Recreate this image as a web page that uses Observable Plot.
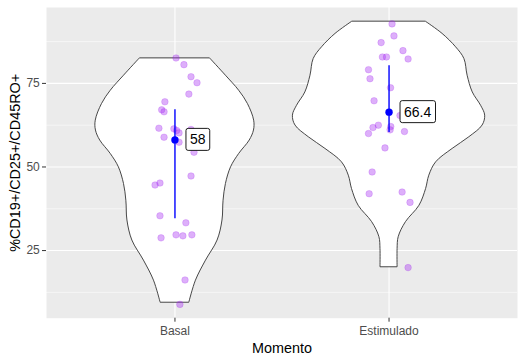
<!DOCTYPE html>
<html><head><meta charset="utf-8">
<script src="https://cdn.jsdelivr.net/npm/d3@7"></script>
<script src="https://cdn.jsdelivr.net/npm/@observablehq/plot@0.6"></script>
<style>html,body{margin:0;padding:0;background:#fff;} svg{display:block;}</style>
</head><body><div id="chart"></div>
<script>
// ---- data ----
const categories = ["Basal", "Estimulado"];
const yTicks = [25, 50, 75];
const yMinorTicks = [12.5, 37.5, 62.5, 87.5];

const basalValues = [82.6, 80.6, 77.0, 75.2, 71.8, 69.5, 67.1, 66.5, 61.6, 61.4, 60.9, 61.2, 60.2, 58.9, 57.4, 54.4, 47.3, 45.2, 44.6, 35.4, 33.3, 29.7, 29.4, 29.7, 28.8, 16.2, 8.9];
const basalJitter = [0.005, 0.042, 0.075, 0.103, 0.065, -0.047, -0.062, -0.051, -0.075, -0.005, 0.008, 0.075, 0.019, -0.051, 0.019, 0.089, 0.075, -0.070, -0.093, -0.070, 0.051, 0.005, 0.037, 0.079, -0.065, 0.047, 0.023];

const estimValues = [92.8, 89.2, 87.2, 84.8, 82.9, 82.9, 82.3, 79.1, 76.4, 73.7, 69.8, 65.4, 62.5, 62.1, 61.8, 61.1, 60.6, 60.0, 55.7, 48.5, 42.0, 42.5, 39.4, 19.9];
const estimJitter = [0.014, 0.023, -0.037, 0.065, -0.031, -0.012, 0.089, -0.096, -0.089, 0.007, -0.070, 0.051, -0.050, 0.008, -0.075, 0.005, 0.072, -0.096, -0.019, -0.079, -0.093, 0.061, 0.098, 0.089];

// violin outlines (value, half-width in category units)
const basalProfileV = [82.4, 77.3, 72.8, 68.8, 63.85, 60.9, 57.9, 53.9, 49.9, 44.9, 39.9, 34.0, 28.0, 22.0, 16.0, 9.4];
const basalProfileW = [0.165, 0.238, 0.300, 0.341, 0.370, 0.369, 0.349, 0.300, 0.262, 0.238, 0.227, 0.222, 0.199, 0.145, 0.098, 0.067];
const estimProfileV = [93.4, 89.8, 85.8, 82.3, 77.3, 72.3, 68.3, 65.35, 62.4, 58.9, 55.4, 51.4, 47.4, 43.4, 38.4, 33.5, 29.0, 25.5, 20.0];
const estimProfileW = [0.173, 0.250, 0.313, 0.352, 0.367, 0.391, 0.430, 0.449, 0.437, 0.375, 0.297, 0.220, 0.188, 0.173, 0.142, 0.079, 0.045, 0.040, 0.040];

// summary: median and interquartile range
const medians = [58.1, 66.4];
const q1s = [34.5, 60.35];
const q3s = [67.1, 80.3];
const medianLabels = ["58", "66.4"];

// ---- tables ----
const points = [
  ...basalValues.map((v, i) => ({group: categories[0], c: 1, v, j: basalJitter[i]})),
  ...estimValues.map((v, i) => ({group: categories[1], c: 2, v, j: estimJitter[i]}))
];
const violin = [
  ...basalProfileV.map((v, i) => ({group: categories[0], c: 1, v, w: basalProfileW[i]})),
  ...estimProfileV.map((v, i) => ({group: categories[1], c: 2, v, w: estimProfileW[i]}))
];
const summary = categories.map((g, i) => ({group: g, c: i + 1, med: medians[i], q1: q1s[i], q3: q3s[i], label: medianLabels[i]}));

const FONT = "'Liberation Sans', Arial, Helvetica, sans-serif";
const LABEL_FILL = "#000001";

const chart = Plot.plot({
  width: 524, height: 363,
  marginLeft: 46, marginRight: 7, marginTop: 7, marginBottom: 45.3,
  style: {fontFamily: FONT, background: "white", overflow: "visible"},
  x: {type: "linear", domain: [0.4, 2.6]},
  y: {domain: [4.77, 97.7]},
  marks: [
    Plot.frame({fill: "#EBEBEB", stroke: null}),
    Plot.ruleY(yMinorTicks, {stroke: "white", strokeWidth: 0.55}),
    Plot.ruleY(yTicks, {stroke: "white", strokeWidth: 1.1}),
    Plot.ruleX([1, 2], {stroke: "white", strokeWidth: 1.1}),
    Plot.areaX(violin, {y: "v", x1: d => d.c - d.w, x2: d => d.c + d.w, z: "group", fill: "white", stroke: "#333333", strokeWidth: 0.9, curve: "catmull-rom"}),
    Plot.dot(points, {x: d => d.c + d.j, y: "v", r: 3.3, fill: "#A020F0", fillOpacity: 0.36, stroke: "#A020F0", strokeOpacity: 0.2, strokeWidth: 1}),
    Plot.ruleX(summary, {x: "c", y1: "q1", y2: "q3", stroke: "#0000FF", strokeWidth: 1.4}),
    Plot.dot(summary, {x: "c", y: "med", r: 3.7, fill: "#0000FF", stroke: null}),
    Plot.text(summary, {x: "c", y: "med", text: "label", dx: 15, textAnchor: "start", lineAnchor: "middle", fontSize: 14, fill: LABEL_FILL}),
    Plot.axisX({ticks: [1, 2], tickFormat: i => categories[i - 1], tickSize: 4, tickPadding: 4.3, fontSize: 12, stroke: "#333333", fill: "#4D4D4D", label: null}),
    Plot.axisY({ticks: yTicks, tickSize: 4, tickPadding: 2.7, fontSize: 12, stroke: "#333333", fill: "#4D4D4D", label: null}),
    Plot.text(["Momento"], {text: d => d, frameAnchor: "bottom", dy: 30.4, textAnchor: "middle", lineAnchor: "middle", fontSize: 14.4, fill: "black"}),
    Plot.text(["%CD19+/CD25+/CD45RO+"], {text: d => d, frameAnchor: "left", dx: -31.3, rotate: -90, textAnchor: "middle", lineAnchor: "middle", fontSize: 14.4, fill: "black"})
  ]
});

document.getElementById("chart").append(chart);

// draw label boxes behind the median labels (like geom_label)
const labelTexts = Array.from(chart.querySelectorAll("text")).filter(t => {
  const g = t.closest("g");
  return g && (g.getAttribute("fill") || "").toLowerCase() === LABEL_FILL && medianLabels.includes(t.textContent);
});
labelTexts.forEach(t => {
  const b = t.getBBox();
  const padX = 4, padY = 3;
  const rect = document.createElementNS("http://www.w3.org/2000/svg", "rect");
  rect.setAttribute("x", b.x - padX);
  rect.setAttribute("y", b.y - padY);
  rect.setAttribute("width", b.width + 2 * padX);
  rect.setAttribute("height", b.height + 2 * padY);
  rect.setAttribute("rx", 2.2);
  rect.setAttribute("fill", "white");
  rect.setAttribute("stroke", "black");
  rect.setAttribute("stroke-width", 0.9);
  const tr = t.getAttribute("transform");
  if (tr) rect.setAttribute("transform", tr);
  t.parentNode.insertBefore(rect, t);
});
</script>
</body></html>
